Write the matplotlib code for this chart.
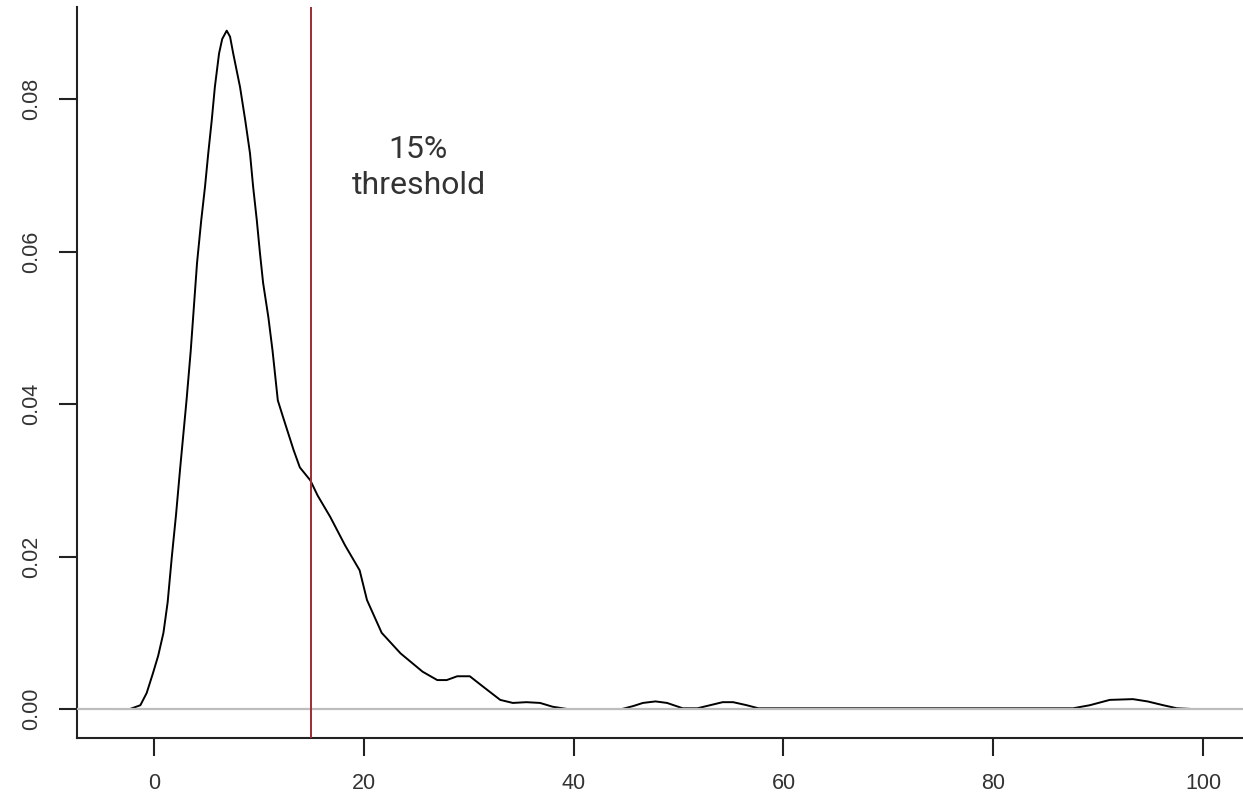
import matplotlib
matplotlib.use("Agg")
import matplotlib.pyplot as plt

# density curve (x in %, y density)
dens_x = [-4.0, -2.3, -1.3, -0.7, -0.1, 0.4, 0.9, 1.3, 1.7, 2.1, 2.5, 3.1, 3.5, 4.1,
          4.5, 4.86, 5.17, 5.5, 5.8, 6.2, 6.5, 6.93, 7.25, 7.55, 8.2, 8.7, 9.15, 9.45,
          9.8, 10.1, 10.4, 10.9, 11.3,
          11.8, 12.3, 13.3, 13.9, 14.9, 15.6, 16.8, 18.2, 19.6, 20.3,
          21.7, 23.5, 25.6, 27.0, 27.9, 28.9, 30.1, 31.4, 33.0, 34.2, 35.5, 36.8, 38.0,
          39.4, 44.6, 45.7, 46.6, 47.8, 48.9, 50.4, 51.8, 53.0, 54.2, 55.2, 56.5, 57.6,
          87.6, 89.2, 91.1, 93.3, 94.7, 96.2, 97.5, 99.0]
dens_y = [0.0, 0.0, 0.0005, 0.0021, 0.0047, 0.0070, 0.0100, 0.0140, 0.0200, 0.0255,
          0.0317, 0.0405, 0.0470, 0.0585,
          0.0641, 0.0685, 0.0729, 0.0772, 0.0816, 0.0860, 0.0879, 0.0890, 0.0882, 0.0860,
          0.0816, 0.0772, 0.0729, 0.0685, 0.0641, 0.0598, 0.0559, 0.0514, 0.0470,
          0.0405, 0.0383, 0.0340, 0.0317, 0.0300, 0.0280, 0.0252, 0.0215, 0.0182,
          0.0143, 0.0100, 0.0073,
          0.0049, 0.0038, 0.0038, 0.0043, 0.0043, 0.0029, 0.0012, 0.0008, 0.0009, 0.0008,
          0.0003, 0.0, 0.0, 0.0004, 0.0008, 0.0010, 0.0008, 0.0001, 0.0001, 0.0005,
          0.0009, 0.0009, 0.0005, 0.0001, 0.0001, 0.0005, 0.0012, 0.0013, 0.0010, 0.0005,
          0.0001, 0.0]

threshold = 15
x_ticks = [0, 20, 40, 60, 80, 100]
y_ticks = [0.00, 0.02, 0.04, 0.06, 0.08]
y_labels = ["0.00", "0.02", "0.04", "0.06", "0.08"]

fig = plt.figure(figsize=(12.43, 7.97), dpi=100)
ax = fig.add_axes([77 / 1243, 59 / 797, 1 - 77 / 1243, (738 - 7) / 797])

ax.plot(dens_x, dens_y, color="black", lw=1.4, zorder=2, solid_joinstyle="round")
ax.axhline(0, color="#bdbdbd", lw=1.6, zorder=3)
ax.axvline(threshold, color="#9e2a35", lw=1.4, zorder=4)

ax.text(25.2, 0.0711, "15%\nthreshold", ha="center", va="center", fontsize=23,
        family="Roboto", color="#333333", linespacing=1.3)

ax.set_xlim(-7.34, 103.8)
ax.set_ylim(-0.0038, 0.0921)
ax.set_xticks(x_ticks)
ax.set_yticks(y_ticks)
ax.set_yticklabels(y_labels, rotation=90, va="center")

for side in ["top", "right"]:
    ax.spines[side].set_visible(False)
for side in ["left", "bottom"]:
    ax.spines[side].set_linewidth(1.5)
    ax.spines[side].set_color("#222222")

ax.tick_params(length=13, width=1.5, color="#222222", labelsize=15.5,
               labelcolor="#333333", pad=12)
for lab in ax.get_xticklabels() + ax.get_yticklabels():
    lab.set_family("Liberation Sans")

fig.savefig("out.png", dpi=100, facecolor="white")
